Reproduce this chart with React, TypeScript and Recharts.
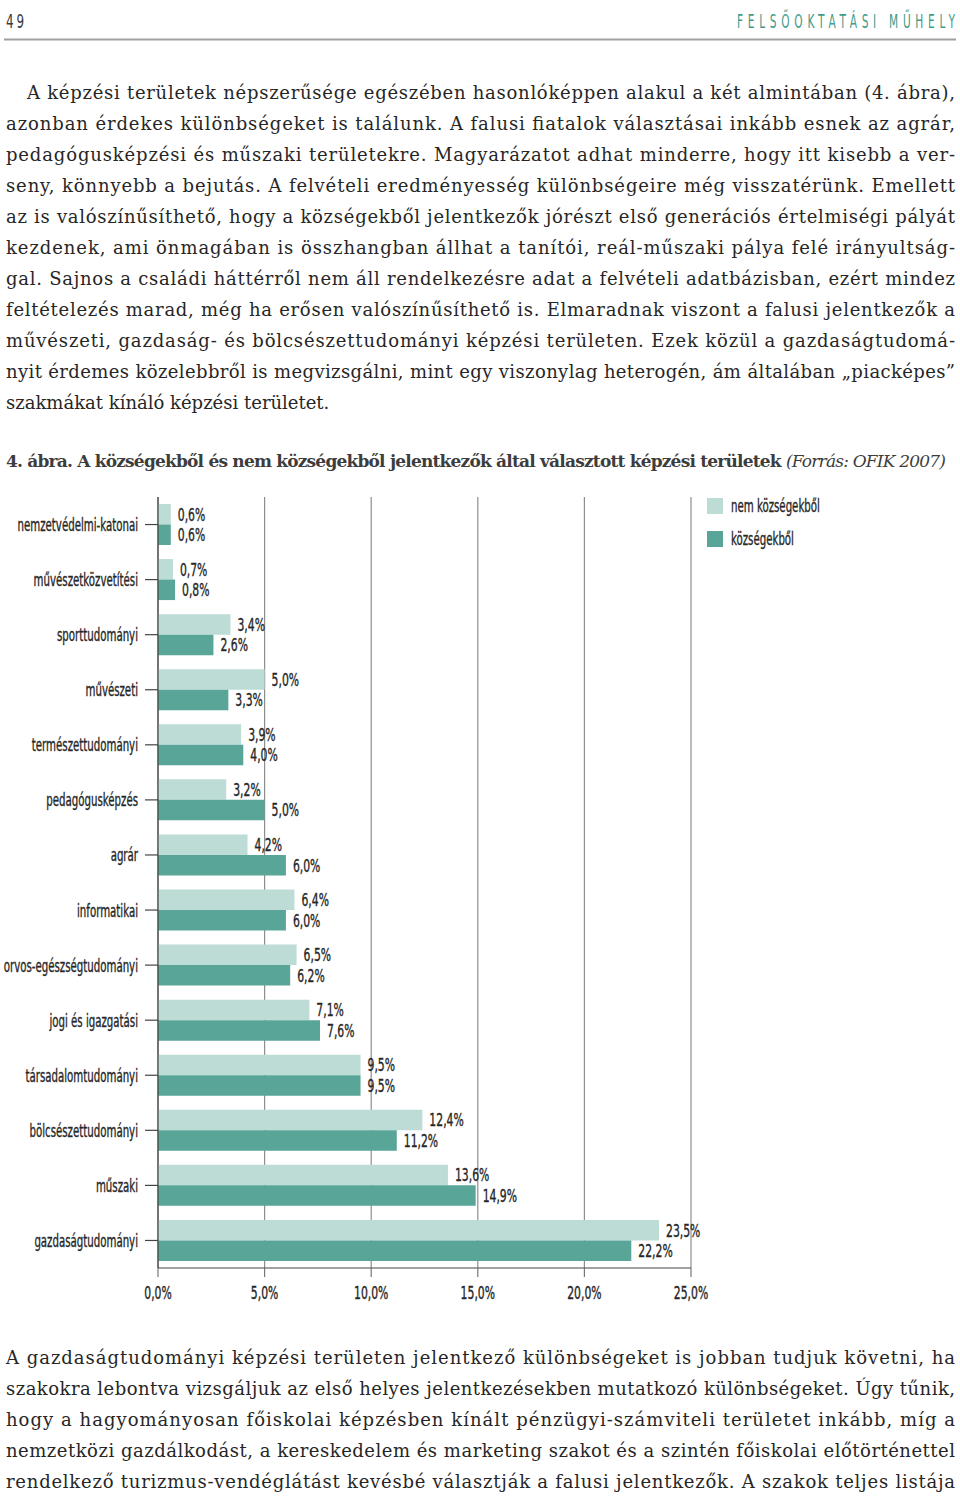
import React from 'react';
import { BarChart, Bar, XAxis, YAxis, CartesianGrid, LabelList } from 'recharts';

const categories = [
  'nemzetvédelmi-katonai',
  'művészetközvetítési',
  'sporttudományi',
  'művészeti',
  'természettudományi',
  'pedagógusképzés',
  'agrár',
  'informatikai',
  'orvos-egészségtudományi',
  'jogi és igazgatási',
  'társadalomtudományi',
  'bölcsészettudományi',
  'műszaki',
  'gazdaságtudományi',
];
const nemKozsegekbol = [0.6, 0.7, 3.4, 5.0, 3.9, 3.2, 4.2, 6.4, 6.5, 7.1, 9.5, 12.4, 13.6, 23.5];
const kozsegekbol = [0.6, 0.8, 2.6, 3.3, 4.0, 5.0, 6.0, 6.0, 6.2, 7.6, 9.5, 11.2, 14.9, 22.2];
const xTicks = [0, 5, 10, 15, 20, 25];
const seriesNames = ['nem községekből', 'községekből'];

const headerLeft = '4 9';
const headerRight = 'FELSŐOKTATÁSI MŰHELY';
const captionBold = '4. ábra. A községekből és nem községekből jelentkezők által választott képzési területek ';
const captionItalic = '(Forrás: OFIK 2007)';

const topParagraph = [
  'A képzési területek népszerűsége egészében hasonlóképpen alakul a két almintában (4. ábra),',
  'azonban érdekes különbségeket is találunk. A falusi fiatalok választásai inkább esnek az agrár,',
  'pedagógusképzési és műszaki területekre. Magyarázatot adhat minderre, hogy itt kisebb a ver-',
  'seny, könnyebb a bejutás. A felvételi eredményesség különbségeire még visszatérünk. Emellett',
  'az is valószínűsíthető, hogy a községekből jelentkezők jórészt első generációs értelmiségi pályát',
  'kezdenek, ami önmagában is összhangban állhat a tanítói, reál-műszaki pálya felé irányultság-',
  'gal. Sajnos a családi háttérről nem áll rendelkezésre adat a felvételi adatbázisban, ezért mindez',
  'feltételezés marad, még ha erősen valószínűsíthető is. Elmaradnak viszont a falusi jelentkezők a',
  'művészeti, gazdaság- és bölcsészettudományi képzési területen. Ezek közül a gazdaságtudomá-',
  'nyit érdemes közelebbről is megvizsgálni, mint egy viszonylag heterogén, ám általában „piacképes”',
  'szakmákat kínáló képzési területet.',
];
const bottomParagraph = [
  'A gazdaságtudományi képzési területen jelentkező különbségeket is jobban tudjuk követni, ha',
  'szakokra lebontva vizsgáljuk az első helyes jelentkezésekben mutatkozó különbségeket. Úgy tűnik,',
  'hogy a hagyományosan főiskolai képzésben kínált pénzügyi-számviteli területet inkább, míg a',
  'nemzetközi gazdálkodást, a kereskedelem és marketing szakot és a szintén főiskolai előtörténettel',
  'rendelkező turizmus-vendéglátást kevésbé választják a falusi jelentkezők. A szakok teljes listája',
];

const data = categories.map((name, i) => ({ name, nem: nemKozsegekbol[i], kozs: kozsegekbol[i] }));

const LIGHT = '#bddcd6';
const DARK = '#59a597';
const TEXT = '#262626';
const COND = "'DejaVu Sans Condensed','Liberation Sans Narrow',sans-serif";
const SERIF = "'DejaVu Serif','Liberation Serif',serif";
const SX = 0.66;

const fmt = (v: number) => v.toFixed(1).replace('.', ',') + '%';

const CondText = ({ x, y, anchor, children, size = 17.2, fill = TEXT, sx = SX }: any) => (
  <text
    transform={`translate(${x},${y}) scale(${sx},1)`}
    textAnchor={anchor}
    dominantBaseline="central"
    fontFamily={COND}
    fontSize={size}
    fill={fill}
    stroke={fill}
    strokeWidth={0.35}
  >
    {children}
  </text>
);

const YTick = (props: any) => {
  const { x, y, payload } = props;
  return <CondText x={x} y={y} anchor="end">{payload.value}</CondText>;
};

const XTick = (props: any) => {
  const { x, y, payload } = props;
  return <CondText x={x} y={y} anchor="middle" sx={0.7}>{fmt(payload.value)}</CondText>;
};

const ValueLabel = (props: any) => {
  const { x, y, width, height, value } = props;
  return <CondText x={x + width + 7} y={y + height / 2} anchor="start" sx={0.7}>{fmt(value)}</CondText>;
};

const ChartLegend = () => (
  <div style={{ position: 'absolute', left: 707, top: 497.5 }}>
    {seriesNames.map((n, i) => (
      <div key={n} style={{ display: 'flex', alignItems: 'center', height: 16, marginBottom: 17 }}>
        <div style={{ width: 16, height: 16, background: i === 0 ? LIGHT : DARK, marginRight: 8 }} />
        <svg width={200} height={20} style={{ overflow: 'visible' }}>
          <CondText x={0} y={10} anchor="start">{n}</CondText>
        </svg>
      </div>
    ))}
  </div>
);

const Line = ({ x, y, text, w }: any) => (
  <text
    x={x}
    y={y}
    fontFamily={SERIF}
    fontSize={18}
    fill={TEXT}
    {...(w ? { textLength: w, lengthAdjust: 'spacing' } : {})}
  >
    {text}
  </text>
);

export default function App() {
  return (
    <div style={{ position: 'absolute', left: 0, top: 0, width: 960, height: 1497, background: '#fff' }}>
      <svg width={960} height={1497} style={{ position: 'absolute', left: 0, top: 0 }}>
        <text
          transform={`translate(6,28) scale(0.7,1)`}
          fontFamily={COND}
          fontSize={19}
          fill="#3a3a3a"
          textLength={18 / 0.7}
          lengthAdjust="spacing"
        >
          {headerLeft}
        </text>
        <text
          transform={`translate(737,28) scale(0.62,1)`}
          fontFamily={COND}
          fontSize={19}
          fill="#3f9c8b"
          textLength={218 / 0.62}
          lengthAdjust="spacing"
        >
          {headerRight}
        </text>
        <line x1={4} x2={956} y1={39.5} y2={39.5} stroke="#a0a0a0" strokeWidth={2} />
        {topParagraph.map((t, i) => (
          <Line
            key={i}
            x={i === 0 ? 27 : 6}
            y={99 + i * 31}
            text={t}
            w={i === topParagraph.length - 1 ? undefined : i === 0 ? 928 : 949}
          />
        ))}
        <text x={6} y={467} fontFamily={SERIF} fontSize={17} fill="#3d3d3d" textLength={940} lengthAdjust="spacing">
          <tspan fontWeight="bold">{captionBold}</tspan>
          <tspan fontStyle="italic">{captionItalic}</tspan>
        </text>
        {bottomParagraph.map((t, i) => (
          <Line key={i} x={6} y={1364 + i * 31} text={t} w={949} />
        ))}
      </svg>
      <div style={{ position: 'absolute', left: 0, top: 480 }}>
        <BarChart
          width={960}
          height={850}
          data={data}
          layout="vertical"
          margin={{ top: 17, right: 269, bottom: 22, left: 0 }}
          barGap={0}
          barSize={20.5}
        >
          <CartesianGrid vertical horizontal={false} stroke="#8e8e8e" strokeWidth={1.2} />
          <XAxis
            type="number"
            domain={[0, 25]}
            ticks={xTicks}
            interval={0}
            height={40}
            tickSize={9}
            tickMargin={16}
            tick={<XTick />}
            axisLine={{ stroke: '#444', strokeWidth: 1.2 }}
            tickLine={{ stroke: '#777', strokeWidth: 1.2 }}
          />
          <XAxis
            xAxisId="top"
            orientation="top"
            type="number"
            domain={[0, 25]}
            ticks={xTicks}
            height={0}
            tick={false}
            tickLine={false}
            axisLine={{ stroke: '#8e8e8e', strokeWidth: 1.2 }}
          />
          <YAxis
            type="category"
            dataKey="name"
            width={158}
            interval={0}
            tickSize={13}
            tickMargin={7}
            tick={<YTick />}
            axisLine={{ stroke: '#444', strokeWidth: 1.2 }}
            tickLine={{ stroke: '#444', strokeWidth: 1.2 }}
          />
          <Bar dataKey="nem" name={seriesNames[0]} fill={LIGHT} isAnimationActive={false}>
            <LabelList dataKey="nem" content={<ValueLabel />} />
          </Bar>
          <Bar dataKey="kozs" name={seriesNames[1]} fill={DARK} isAnimationActive={false}>
            <LabelList dataKey="kozs" content={<ValueLabel />} />
          </Bar>
        </BarChart>
      </div>
      <ChartLegend />
    </div>
  );
}
